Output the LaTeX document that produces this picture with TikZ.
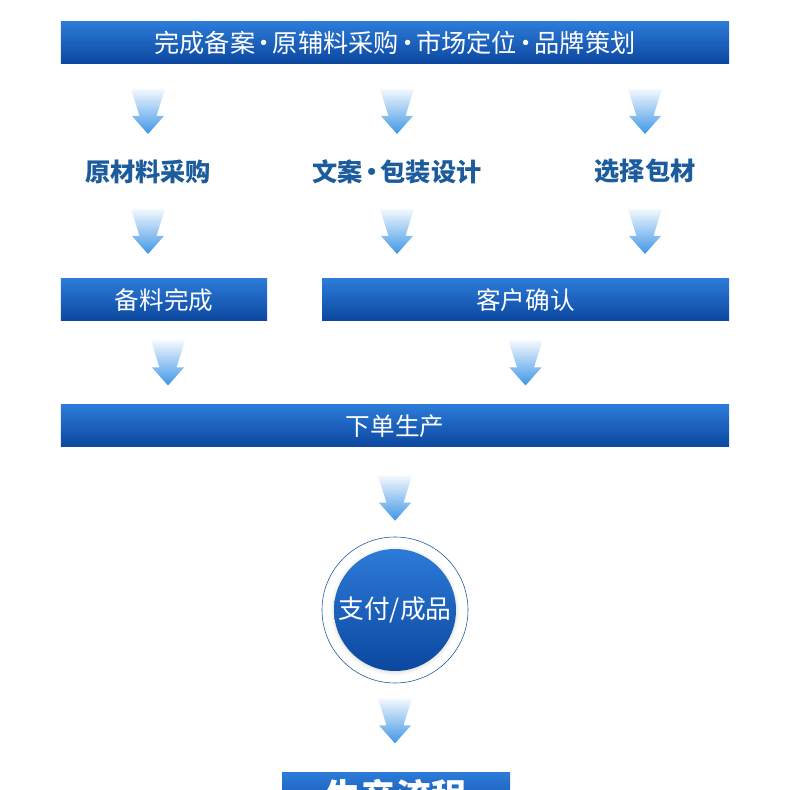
\documentclass[tikz,border=0pt]{standalone}
\usepackage{fontspec}
\newfontfamily\cjkfont{Noto Sans CJK SC}
\usepackage{tikz}
\usetikzlibrary{calc, shadows.blur}
\definecolor{bartop}{HTML}{2C7BD8}
\definecolor{barbot}{HTML}{0B479F}
\definecolor{arrowblue}{HTML}{3F96E6}
\definecolor{labelblue}{HTML}{1C5B9C}
\definecolor{ringline}{HTML}{1B5A9C}
\newcommand{\middot}{\makebox[0.7em]{·}}
\tikzset{
  bar/.style       = {rectangle, top color=bartop, bottom color=barbot,
                      minimum height=12.6mm, inner sep=0pt, text=white,
                      font=\cjkfont\fontsize{21pt}{24pt}\selectfont},
  steplabel/.style = {inner sep=0pt, minimum height=7.5mm, text=labelblue,
                      font=\cjkfont\bfseries\fontsize{21.5pt}{25pt}\selectfont},
  ring/.style      = {circle, draw=ringline, line width=0.5pt,
                      minimum size=43.8mm, inner sep=0pt},
  disk/.style      = {circle, top color=bartop, bottom color=barbot,
                      minimum size=36.6mm, inner sep=0pt, text=white,
                      font=\cjkfont\fontsize{22pt}{26pt}\selectfont},
  flowarrow/.pic   = {
    \shade[top color=arrowblue!6, bottom color=arrowblue]
      (-5.1,6.75) -- (5.1,6.75) -- (2.55,-1.35) -- (4.8,-1.35)
      -- (0,-6.75) -- (-4.8,-1.35) -- (-2.55,-1.35) -- cycle;
  },
}

\begin{document}
\begin{tikzpicture}[x=1mm, y=1mm]

  \useasboundingbox (0,0) rectangle (237,237);
  \clip (0,0) rectangle (237,237);

  \node[bar, minimum width=200.4mm, font=\cjkfont\fontsize{21.5pt}{25pt}\selectfont]
       (plan) at (118.5,224.1)
       {完成备案\middot 原辅料采购\middot 市场定位\middot 品牌策划};

  \node[steplabel] (raw)  at (44.4,185.55)  {原材料采购};
  \node[steplabel] (copy) at (119.1,185.55) {文案\middot 包装设计};
  \node[steplabel] (pack) at (193.5,185.55) {选择包材};

  \node[bar, minimum width=61.8mm]  (ready)   at (49.2,147)   {备料完成};
  \node[bar, minimum width=122.1mm] (confirm) at (157.65,147) {客户确认};

  \node[bar, minimum width=200.4mm] (order) at (118.5,109.2) {下单生产};

  \node[ring] (pay) at (118.5,54) {};
  \node[disk, blur shadow={shadow xshift=0pt, shadow yshift=-0.3mm,
        shadow blur radius=1.2mm, shadow opacity=18}] (payin) at (pay) {支付/成品};

  \node[bar, minimum width=68.4mm, minimum height=14mm,
        font=\cjkfont\bfseries\fontsize{30pt}{34pt}\selectfont]
       (title) at (118.8,-1.9) {生产流程};

  % flow arrows
  \foreach \n in {raw, copy, pack} {
    \pic at ($(plan.south -| \n)!0.5!(\n.north)$) {flowarrow};
    \pic at ($(\n.south)!0.5!(\n.south |- ready.north)$) {flowarrow};
  }
  \pic at ($(ready.south)!0.5!(ready.south |- order.north) + (1.2,0)$) {flowarrow};
  \pic at ($(confirm.south)!0.5!(confirm.south |- order.north)$) {flowarrow};
  \pic at ($(order.south -| pay)!0.57!(pay.north)$) {flowarrow};
  \pic at ($(pay.south)!0.42!(pay.south |- title.north)$) {flowarrow};

\end{tikzpicture}
\end{document}
